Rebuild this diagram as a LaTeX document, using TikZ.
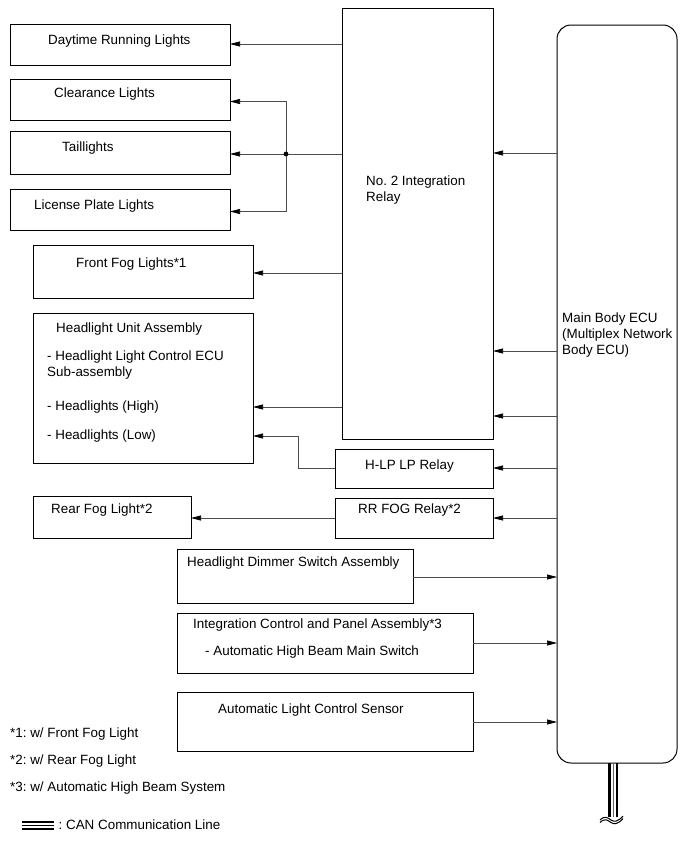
\documentclass[tikz,border=0pt]{standalone}
\usepackage{fontspec}
\setmainfont{Liberation Sans}
\usetikzlibrary{arrows.meta}
\frenchspacing
\begin{document}
\begin{tikzpicture}[x=1pt,y=-1pt,
  box/.style={draw, line width=1pt, inner sep=0pt, outer sep=0pt, anchor=north west},
  lbl/.style={anchor=west, inner sep=0pt, text height=9.6pt, text depth=0pt, font=\fontsize{13.4}{15}\selectfont\frenchspacing},
  conn/.style={line width=0.7pt, draw=black!70, -{Triangle[length=10pt,width=5pt,color=black]}},
  wire/.style={line width=0.7pt, draw=black!70}]
\useasboundingbox (0,0) rectangle (691,854);
% boxes
\node[box, minimum width=220pt, minimum height=41pt] (drl) at (10,24) {};
\node[box, minimum width=220pt, minimum height=41pt] (clr) at (10,79) {};
\node[box, minimum width=220pt, minimum height=43pt] (tail) at (10,131) {};
\node[box, minimum width=220pt, minimum height=41pt] (lic) at (10,189) {};
\node[box, minimum width=220pt, minimum height=53pt] (ffog) at (33,245) {};
\node[box, minimum width=220pt, minimum height=150pt] (hl) at (33,313) {};
\node[box, minimum width=158pt, minimum height=42pt] (rfog) at (33,496) {};
\node[box, minimum width=151pt, minimum height=431pt] (relay) at (342,8) {};
\node[box, minimum width=158pt, minimum height=39pt] (hlp) at (335,449) {};
\node[box, minimum width=158pt, minimum height=40pt] (rrfog) at (335,498) {};
\node[box, minimum width=120pt, minimum height=738pt, rounded corners=14pt] (ecu) at (557,25) {};
\node[box, minimum width=236pt, minimum height=54pt] (dim) at (177,549) {};
\node[box, minimum width=296pt, minimum height=60pt] (icp) at (177,613) {};
\node[box, minimum width=296pt, minimum height=59pt] (als) at (177,692) {};
% texts
\node[lbl] (tdrl) at (48,40) {Daytime Running Lights};
\node[lbl] (tclr) at (54,93) {Clearance Lights};
\node[lbl] (ttail) at (62,147) {Taillights};
\node[lbl] (tlic) at (34,205) {License Plate Lights};
\node[lbl] (tffog) at (76,263) {Front Fog Lights*1};
\node[lbl] (thl1) at (56,328) {Headlight Unit Assembly};
\node[lbl] (thl2) at (47,356) {- Headlight Light Control ECU};
\node[lbl] (thl3) at (47,372) {Sub-assembly};
\node[lbl] (thl4) at (47,406) {- Headlights (High)};
\node[lbl] (thl5) at (47,435) {- Headlights (Low)};
\node[lbl] (trfog) at (51,509) {Rear Fog Light*2};
\node[lbl] (trel1) at (366,181) {No.\ 2 Integration};
\node[lbl] (trel2) at (366,197) {Relay};
\node[lbl] (thlp) at (365,465) {H-LP LP Relay};
\node[lbl] (trrfog) at (358,509) {RR FOG Relay*2};
\node[lbl] (tecu1) at (562,318) {Main Body ECU};
\node[lbl] (tecu2) at (562,334) {(Multiplex Network};
\node[lbl] (tecu3) at (562,350) {Body ECU)};
\node[lbl] (tdim) at (187,562) {Headlight Dimmer Switch Assembly};
\node[lbl] (ticp1) at (193,624) {Integration Control and Panel Assembly*3};
\node[lbl] (ticp2) at (205,651) {- Automatic High Beam Main Switch};
\node[lbl] (tals) at (218,709) {Automatic Light Control Sensor};
\node[lbl] (fn1) at (10,733) {*1: w/ Front Fog Light};
\node[lbl] (fn2) at (10,760) {*2: w/ Rear Fog Light};
\node[lbl] (fn3) at (10,787) {*3: w/ Automatic High Beam System};
\node[lbl] (tcan) at (58.5,825) {: CAN Communication Line};
% relay outputs
\draw[conn] (relay.west |- 0,44) -- (drl.east |- 0,44);
\coordinate (jn) at (286,154);
\draw[conn] (relay.west |- jn) -- (tail.east |- jn);
\draw[conn] (jn) |- (clr.east |- 0,101.5);
\draw[conn] (jn) |- (lic.east |- 0,211.5);
\fill (jn) circle (2.4pt);
\draw[conn] (relay.west |- 0,273) -- (ffog.east |- 0,273);
\draw[conn] (relay.west |- 0,407) -- (hl.east |- 0,407);
\draw[conn] (hlp.west |- 0,468) -- (298,468) |- (hl.east |- 0,436);
\draw[conn] (rrfog.west |- 0,518) -- (rfog.east |- 0,518);
% ECU outputs
\draw[conn] (ecu.west |- 0,153) -- (relay.east |- 0,153);
\draw[conn] (ecu.west |- 0,351) -- (relay.east |- 0,351);
\draw[conn] (ecu.west |- 0,416) -- (relay.east |- 0,416);
\draw[conn] (ecu.west |- 0,468) -- (hlp.east |- 0,468);
\draw[conn] (ecu.west |- 0,518) -- (rrfog.east |- 0,518);
% inputs to ECU
\draw[conn] (dim.east |- 0,577) -- (ecu.west |- 0,577);
\draw[conn] (icp.east |- 0,643) -- (ecu.west |- 0,643);
\draw[conn] (als.east |- 0,722) -- (ecu.west |- 0,722);
% CAN line
\coordinate (canend) at (613,817);
\draw[line width=2.6pt] (609.3,0 |- ecu.south) -- (609.3,0 |- canend);
\draw[line width=0.6pt, black!60] (613,0 |- ecu.south) -- (613,0 |- canend);
\draw[line width=2pt] (616.5,0 |- ecu.south) -- (616.5,0 |- canend);
\fill[white] (603,817) rectangle (622,826);
\draw[line width=1pt] (600,820) .. controls (605,815) and (608,818) .. (611,820) .. controls (614,822) and (618,822) .. (623,816);
\draw[line width=1pt] (600,822.5) .. controls (605,817.5) and (608,820.5) .. (611,822.5) .. controls (614,824.5) and (618,824.5) .. (623,818.5);
% legend
\coordinate (lga) at (22,825);
\draw[line width=2pt] (lga) ++(0,-3.5) -- ++(32,0);
\draw[line width=0.7pt] (lga) -- ++(32,0);
\draw[line width=2pt] (lga) ++(0,3.5) -- ++(32,0);
\end{tikzpicture}
\end{document}
